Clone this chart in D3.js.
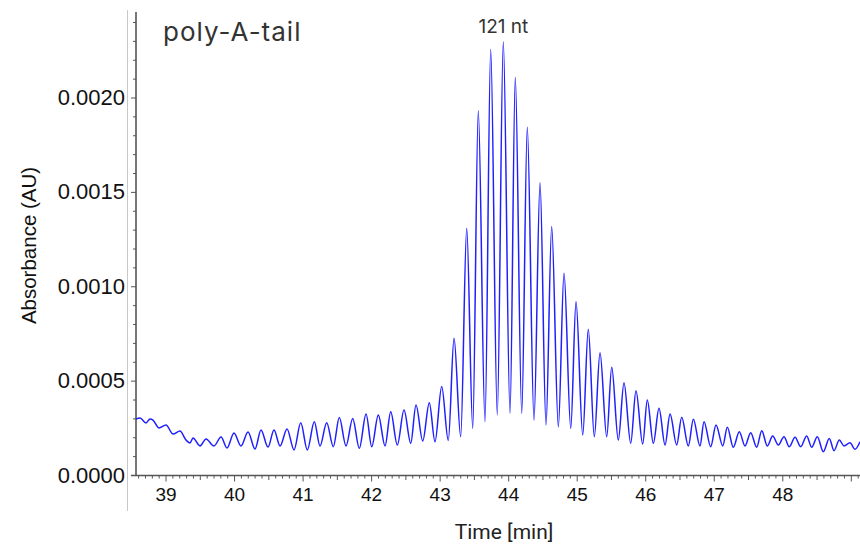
<!DOCTYPE html>
<html>
<head>
<meta charset="utf-8">
<script src="https://cdn.jsdelivr.net/npm/d3@7"></script>
<style>
  html, body { margin: 0; padding: 0; background: #fff; }
  svg { display: block; }
</style>
</head>
<body>
<svg id="chart" width="860" height="544"></svg>
<script>
// Extrema (peaks and troughs) of the trace
const retentionTime = [
  38.569, 38.628, 38.715, 38.774, 38.817, 38.905, 39.007, 39.109, 39.211, 39.299,
  39.357, 39.401, 39.503, 39.591, 39.707, 39.810, 39.897, 39.999, 40.101, 40.204,
  40.306, 40.393, 40.495, 40.583, 40.671, 40.773, 40.875, 40.973, 41.069, 41.171,
  41.254, 41.352, 41.448, 41.536, 41.634, 41.731, 41.828, 41.926, 42.009, 42.105,
  42.203, 42.286, 42.382, 42.480, 42.578, 42.655, 42.753, 42.849, 42.932, 43.030,
  43.126, 43.210, 43.307, 43.395, 43.483, 43.564, 43.662, 43.745, 43.841, 43.929,
  44.027, 44.104, 44.198, 44.279, 44.377, 44.465, 44.552, 44.635, 44.732, 44.815,
  44.913, 44.990, 45.088, 45.169, 45.257, 45.340, 45.438, 45.511, 45.607, 45.690,
  45.788, 45.865, 45.963, 46.030, 46.118, 46.201, 46.289, 46.362, 46.459, 46.532,
  46.629, 46.702, 46.799, 46.858, 46.955, 47.033, 47.131, 47.198, 47.285, 47.373,
  47.456, 47.539, 47.627, 47.700, 47.781, 47.860, 47.942, 48.025, 48.102, 48.186,
  48.269, 48.356, 48.429, 48.511, 48.599, 48.686, 48.755, 48.832, 48.901, 48.988,
  49.061, 49.134
];
const absorbanceAU = [
  0.000297, 0.000302, 0.000276, 0.000297, 0.000291, 0.000249, 0.000265, 0.000217, 0.000233, 0.000185,
  0.000170, 0.000196, 0.000154, 0.000191, 0.000154, 0.000201, 0.000143, 0.000223, 0.000154, 0.000228,
  0.000138, 0.000238, 0.000148, 0.000238, 0.000154, 0.000244, 0.000133, 0.000277, 0.000133, 0.000282,
  0.000154, 0.000277, 0.000150, 0.000304, 0.000154, 0.000300, 0.000142, 0.000323, 0.000150, 0.000318,
  0.000154, 0.000335, 0.000159, 0.000344, 0.000168, 0.000371, 0.000180, 0.000383, 0.000176, 0.000469,
  0.000183, 0.000724, 0.000203, 0.001307, 0.000247, 0.001930, 0.000282, 0.002255, 0.000318, 0.002296,
  0.000327, 0.002107, 0.000327, 0.001842, 0.000291, 0.001549, 0.000265, 0.001316, 0.000256, 0.001069,
  0.000247, 0.000918, 0.000212, 0.000772, 0.000203, 0.000648, 0.000203, 0.000571, 0.000185, 0.000489,
  0.000168, 0.000447, 0.000164, 0.000397, 0.000168, 0.000353, 0.000159, 0.000323, 0.000159, 0.000306,
  0.000154, 0.000295, 0.000154, 0.000282, 0.000150, 0.000265, 0.000154, 0.000253, 0.000147, 0.000229,
  0.000154, 0.000224, 0.000147, 0.000235, 0.000154, 0.000207, 0.000159, 0.000203, 0.000150, 0.000200,
  0.000150, 0.000207, 0.000147, 0.000203, 0.000123, 0.000194, 0.000129, 0.000185, 0.000154, 0.000171,
  0.000136, 0.000176
];

const xTickLabels = [39, 40, 41, 42, 43, 44, 45, 46, 47, 48];
const yTickLabels = ["0.0000", "0.0005", "0.0010", "0.0015", "0.0020"];
const xDomain = [38.569, 49.134];
const yDomain = [0, 0.00245];
const titleText = "poly-A-tail";
const peakLabel = { text: "121 nt", time: 43.93, value: 0.002296 };
const xTitle = "Time [min]";
const yTitle = "Absorbance (AU)";

const svg = d3.select("#chart");
const plotLeft = 136, plotRight = 860, plotTop = 12, plotBottom = 475;
const axisColor = "#555";

const x = d3.scaleLinear().domain(xDomain).range([plotLeft, plotRight]);
const y = d3.scaleLinear().domain(yDomain).range([plotBottom, plotBottom - (yDomain[1] / 0.002) * 377.5]);

// faint gray frame line at far left
svg.append("line").attr("x1", 127.5).attr("x2", 127.5).attr("y1", 10).attr("y2", 511)
  .attr("stroke", "#c8c8c8").attr("stroke-width", 1);

// X axis ticks
const tenths = d3.range(Math.ceil(xDomain[0] * 10), Math.floor(xDomain[1] * 10) + 1);
const minorX = tenths.filter(d => d % 5 !== 0).map(d => d / 10);
const halfX = tenths.filter(d => d % 5 === 0 && d % 10 !== 0).map(d => d / 10);
const majorX = tenths.filter(d => d % 10 === 0).map(d => d / 10);

const gx = svg.append("g").attr("transform", `translate(0,${plotBottom + 0.5})`);
gx.call(d3.axisBottom(x).tickValues(minorX).tickSize(3).tickFormat(""));
const gx2 = svg.append("g").attr("transform", `translate(0,${plotBottom + 0.5})`);
gx2.call(d3.axisBottom(x).tickValues(halfX).tickSize(4.5).tickFormat(""));
const gx3 = svg.append("g").attr("transform", `translate(0,${plotBottom + 0.5})`);
gx3.call(d3.axisBottom(x).tickValues(majorX).tickSize(6)
  .tickFormat(d => xTickLabels.includes(d) ? String(d) : "").tickPadding(6));
[gx, gx2, gx3].forEach(g => {
  g.select(".domain").remove();
  g.selectAll(".tick line").attr("stroke", axisColor).attr("stroke-width", 1);
});
gx3.selectAll(".tick text")
  .attr("font-family", "'Liberation Sans', Arial, sans-serif")
  .attr("font-size", 19).attr("fill", "#111");

// Y axis ticks
const minorY = d3.range(0, 25).filter(d => d % 5 !== 0).map(d => d / 10000);
const gy = svg.append("g").attr("transform", `translate(${plotLeft},0)`);
gy.call(d3.axisLeft(y).tickValues(minorY).tickSize(3).tickFormat(""));
const gy2 = svg.append("g").attr("transform", `translate(${plotLeft},0)`);
gy2.call(d3.axisLeft(y).tickValues(yTickLabels.map(Number)).tickSize(5)
  .tickFormat((d, i) => yTickLabels[i]).tickPadding(6));
[gy, gy2].forEach(g => {
  g.select(".domain").remove();
  g.selectAll(".tick line").attr("stroke", axisColor).attr("stroke-width", 1);
});
gy2.selectAll(".tick text")
  .attr("font-family", "'Liberation Sans', Arial, sans-serif")
  .attr("font-size", 22).attr("fill", "#111");

// axis lines
svg.append("line").attr("x1", 131).attr("x2", plotRight).attr("y1", plotBottom + 0.5).attr("y2", plotBottom + 0.5)
  .attr("stroke", axisColor).attr("stroke-width", 1.6);
svg.append("line").attr("x1", plotLeft).attr("x2", plotLeft).attr("y1", plotTop).attr("y2", plotBottom + 1)
  .attr("stroke", axisColor).attr("stroke-width", 1.6);

// trace
const pts = retentionTime.map((t, i) => [t, absorbanceAU[i]]);
svg.append("path").datum(pts)
  .attr("d", d3.line().x(d => x(d[0])).y(d => y(d[1])).curve(d3.curveMonotoneX))
  .attr("fill", "none").attr("stroke", "#2020ff").attr("stroke-width", 1.5)
  .attr("stroke-linejoin", "round");

// labels
svg.append("text").attr("x", 163).attr("y", 41).text(titleText)
  .attr("font-family", "Inter, Roboto, sans-serif").attr("font-size", 26)
  .attr("letter-spacing", 1).attr("fill", "#333");
svg.append("text").attr("x", x(peakLabel.time)).attr("y", 33).attr("text-anchor", "middle")
  .text(peakLabel.text)
  .attr("font-family", "Inter, Roboto, sans-serif").attr("font-size", 19).attr("fill", "#333");
svg.append("text").attr("x", 504).attr("y", 539).attr("text-anchor", "middle").text(xTitle)
  .attr("font-family", "Roboto, sans-serif").attr("font-size", 21).attr("fill", "#222");
svg.append("text").attr("transform", "translate(36,245.5) rotate(-90)").attr("text-anchor", "middle")
  .text(yTitle)
  .attr("font-family", "'Liberation Sans', Arial, sans-serif").attr("font-size", 20.5).attr("fill", "#111");
</script>
</body>
</html>
